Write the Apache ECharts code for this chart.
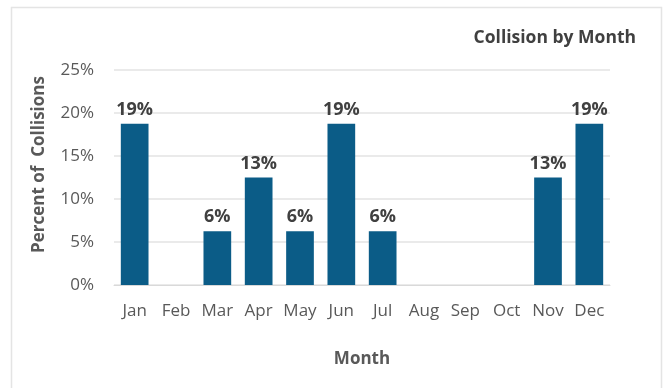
<!DOCTYPE html>
<html>
<head>
<meta charset="utf-8">
<script src="https://cdn.jsdelivr.net/npm/echarts@6/dist/echarts.min.js"></script>
<style>
  html, body { margin: 0; padding: 0; background: #fff; }
  #chart { width: 663px; height: 388px; }
</style>
</head>
<body>
<div id="chart"></div>
<script>
// Share of collisions per month (percent)
const months = ['Jan', 'Feb', 'Mar', 'Apr', 'May', 'Jun', 'Jul', 'Aug', 'Sep', 'Oct', 'Nov', 'Dec'];
const collisionPct = [18.75, 0, 6.25, 12.5, 6.25, 18.75, 6.25, 0, 0, 0, 12.5, 18.75];
const yTicks = [0, 5, 10, 15, 20, 25];

const FONT = '"Open Sans", "Noto Sans", sans-serif';

const chart = echarts.init(document.getElementById('chart'), null, { renderer: 'canvas' });

chart.setOption({
  animation: false,
  backgroundColor: '#ffffff',
  graphic: [{
    type: 'rect',
    shape: { x: 11.5, y: 7.5, width: 650, height: 400 },
    style: { fill: 'none', stroke: '#e4e4e4', lineWidth: 1.5 },
    silent: true
  }],
  title: {
    text: 'Collision by Month',
    right: 22,
    top: 24,
    textStyle: { fontFamily: FONT, fontSize: 17.5, fontWeight: 'bold', color: '#404040' }
  },
  grid: { left: 114, right: 53, top: 70, bottom: 103 },
  xAxis: {
    type: 'category',
    data: months,
    name: 'Month',
    nameLocation: 'middle',
    nameGap: 66,
    nameTextStyle: { fontFamily: FONT, fontSize: 17, fontWeight: 'bold', color: '#595959' },
    axisLine: { show: true, lineStyle: { color: '#d9d9d9', width: 1 } },
    axisTick: { show: false },
    axisLabel: { fontFamily: FONT, fontSize: 17, color: '#595959', margin: 18, interval: 0 }
  },
  yAxis: {
    type: 'value',
    min: yTicks[0],
    max: yTicks[yTicks.length - 1],
    interval: yTicks[1] - yTicks[0],
    name: 'Percent of  Collisions',
    nameLocation: 'middle',
    nameGap: 66,
    nameRotate: 90,
    nameTextStyle: {
      fontFamily: FONT, fontSize: 17, fontWeight: 'bold', color: '#595959',
      padding: [0, 0, 0, 26]
    },
    axisLine: { show: false },
    axisTick: { show: false },
    axisLabel: {
      fontFamily: FONT, fontSize: 17, color: '#595959', margin: 20,
      formatter: v => v + '%'
    },
    splitLine: { lineStyle: { color: '#e3e3e3', width: 1.5 } }
  },
  series: [{
    type: 'bar',
    data: collisionPct.map(v => (v > 0 ? v : null)),
    barCategoryGap: '33%',
    itemStyle: { color: '#0b5c87' },
    label: {
      show: true,
      position: 'top',
      distance: 5,
      fontFamily: FONT,
      fontSize: 18,
      fontWeight: 'bold',
      color: '#404040',
      formatter: p => Math.round(p.value) + '%'
    }
  }]
});
</script>
</body>
</html>
